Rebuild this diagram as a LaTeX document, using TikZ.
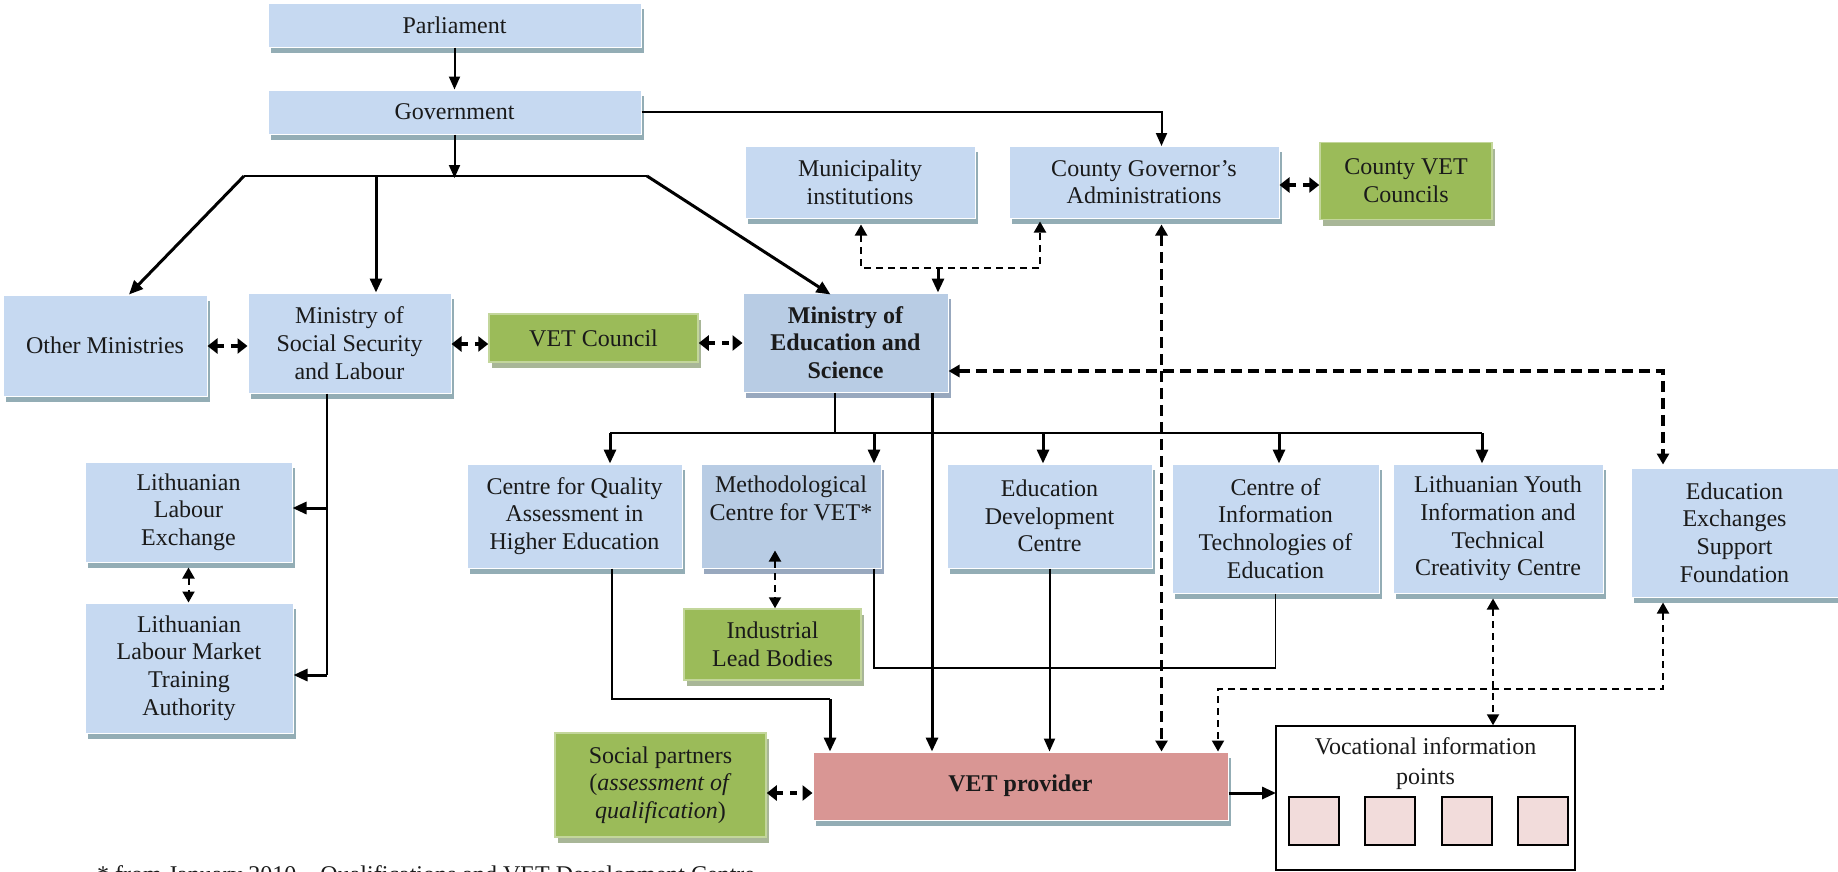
\documentclass[tikz,border=0pt]{standalone}
\usepackage{fontspec}
\setmainfont{Liberation Serif}
\usetikzlibrary{arrows.meta,shadows}
\definecolor{lblue}{HTML}{C6D9F1}
\definecolor{dblue}{HTML}{B8CCE4}
\definecolor{vgreen}{HTML}{9BBB59}
\definecolor{vgreenb}{HTML}{C3D69B}
\definecolor{vpink}{HTML}{D99694}
\definecolor{lpink}{HTML}{F2DCDB}
\definecolor{shblue}{HTML}{93ADB5}
\definecolor{shdblue}{HTML}{98A8BE}
\definecolor{shgreen}{HTML}{A8B697}
\definecolor{txt}{HTML}{1A1A1A}
\newcommand\myfs{\fontsize{24}{27.7}\selectfont}
\begin{document}
\begin{tikzpicture}[x=1pt,y=-1pt,
  wh/.style 2 args={minimum width=#1pt, minimum height=#2pt},
  box/.style={draw=white, line width=1pt, fill=lblue, align=center, inner sep=0pt,
    font=\myfs, text=txt,
    drop shadow={shadow xshift=3pt, shadow yshift=-6pt, fill=shblue, opacity=1}},
  dbox/.style={box, fill=dblue, drop shadow={shadow xshift=3pt, shadow yshift=-6pt, fill=shdblue, opacity=1}},
  gbox/.style={box, fill=vgreen, draw=vgreenb, line width=1.5pt,
    drop shadow={shadow xshift=3pt, shadow yshift=-6pt, fill=shgreen, opacity=1}},
  pbox/.style={box, fill=vpink, draw=white},
  ln/.style={line width=1.5pt, draw=black},
  arr/.style={line width=2pt, -{Triangle[length=13pt,width=11pt]}},
  tarr/.style={line width=3pt, -{Triangle[length=14pt,width=12pt]}},
  both/.style={{Triangle[length=11pt,width=12pt]}-{Triangle[length=11pt,width=12pt]}},
  dsh/.style={line width=2pt, dash pattern=on 7pt off 5pt},
  tdsh/.style={line width=3.5pt, dash pattern=on 11pt off 6pt},
  sdbl/.style={line width=4pt, dash pattern=on 7pt off 7pt,
    {Triangle[length=10pt,width=15pt]}-{Triangle[length=10pt,width=15pt]}}
]
\useasboundingbox (0,0) rectangle (1838,871);

% ---------- nodes ----------
\node[box, wh={373}{44}] (par) at (454.5,25) {Parliament};
\node[box, wh={373}{44}] (gov) at (454.5,112) {Government};
\node[box, wh={230}{72}] (mun) at (860,182) {Municipality\\institutions};
\node[box, wh={270}{72}] (cga) at (1144,182) {County Governor’s\\Administrations};
\node[gbox, wh={172}{77}] (cvc) at (1406,181) {County VET\\Councils};
\node[box, wh={204}{101}] (oth) at (105,345.5) {Other Ministries};
\node[box, wh={203}{100}] (mss) at (349.5,343) {Ministry of\\Social Security\\and Labour};
\node[gbox, wh={209}{48}] (vcl) at (593.5,338) {VET Council};
\node[dbox, wh={205}{99}, font=\myfs\bfseries] (med) at (845.5,342.5) {Ministry of\\Education and\\Science};
\node[box, wh={207}{100}] (lle) at (188.5,512) {Lithuanian\\Labour\\Exchange};
\node[box, wh={208}{130}] (llm) at (189,668) {Lithuanian\\Labour Market\\Training\\Authority};
\node[box, wh={215}{104}] (cqa) at (574.5,516) {Centre for Quality\\Assessment in\\Higher Education};
\node[dbox, wh={180}{104}] (met) at (791,516) {Methodological\\Centre for VET*\\\strut};
\node[gbox, wh={177}{71}] (ilb) at (772.5,644.5) {Industrial\\Lead Bodies};
\node[box, wh={205}{104}] (edc) at (1049.5,516) {Education\\Development\\Centre};
\node[box, wh={207}{129}] (cit) at (1275.5,528.5) {Centre of\\Information\\Technologies of\\Education};
\node[box, wh={210}{129}] (lyc) at (1498,528.5) {Lithuanian Youth\\Information and\\Technical\\Creativity Centre};
\node[box, wh={207}{129}] (eex) at (1734.5,532.5) {Education\\Exchanges\\Support\\Foundation};
\node[gbox, wh={211}{104}] (soc) at (660.5,785) {Social partners\\(\textit{assessment of}\\\textit{qualification})};
\node[pbox, wh={415}{68}, font=\myfs\bfseries] (vet) at (1020.5,786) {VET provider};
\node[draw=black, line width=1.5pt, fill=white, wh={299}{144}] (vip) at (1425.5,798) {};
\node[font=\fontsize{24}{30}\selectfont, text=txt, align=center] (viptext) at (1425.5,764) {Vocational information\\points};
\foreach \i/\x in {1/1314,2/1390,3/1467,4/1543}
  \node[draw=black, line width=1.5pt, fill=lpink, wh={50}{48}] (p\i) at (\x,821) {};
\node[anchor=base west, font=\myfs, text=txt, inner sep=0pt] (fn) at (97,882)
  {* from January 2010 – Qualifications and VET Development Centre};

% ---------- coordinates ----------
\coordinate (cgin) at (1161.5,146);
\coordinate (tr) at (454.5,178);
\coordinate (trL) at (244,176);
\coordinate (trM) at (376,176);
\coordinate (trR) at (647,176);
\coordinate (mj) at (938,268);
\coordinate (sb1) at (327,508);
\coordinate (sb2) at (327,675);
\coordinate (bus) at (835,433);
\coordinate (busL) at (610,433);
\coordinate (b2) at (874,433);
\coordinate (b3) at (1043,433);
\coordinate (b4) at (1279,433);
\coordinate (busR) at (1482,433);
\coordinate (cq2) at (830,699);
\coordinate (jn) at (1049.5,668);
\coordinate (ej) at (1218,689);
\coordinate (vv) at (1276,793);

% ---------- connectors ----------
\draw[arr] (par) -- (gov);
\draw[arr] (gov.east) -| (cgin);
\draw[arr] (gov) -- (tr);
\draw[ln] (trL) -- (trR);
\draw[tarr] (trL) -- ([xshift=24pt]oth.north);
\draw[tarr] (trM) -- ([xshift=26.5pt]mss.north);
\draw[tarr] (trR) -- ([xshift=-15pt,yshift=-2pt]med.north);

% municipality / county dashed
\draw[dsh, both] ([xshift=1pt,yshift=-6pt]mun.south) |- (mj) -| ([xshift=-104pt,yshift=-3pt]cga.south);
\draw[tarr] (mj) -- ([xshift=92.5pt]med.north);

% horizontal double arrows
\draw[sdbl] ([yshift=-0.5pt]oth.east) -- ([yshift=-0.5pt]oth.east -| mss.west);
\draw[sdbl] ([yshift=-1pt]mss.east) -- ([yshift=-6pt]vcl.west);
\draw[sdbl] ([yshift=-5pt]vcl.east) -- ([yshift=-0.5pt]med.west);
\draw[sdbl] ([yshift=-3pt]cga.east) -- ([yshift=-4pt]cvc.west);
\draw[sdbl] ([yshift=-8pt]soc.east) -- ([yshift=-7pt]vet.west);

% county governor <-> VET provider
\draw[tdsh, both] ([xshift=17.5pt,yshift=-6pt]cga.south) -- ([xshift=141pt]vet.north);
% MinEd <-> Education Exchanges
\draw[tdsh, both] ([yshift=-28.5pt]med.east) -| ([xshift=-71.5pt,yshift=3pt]eex.north);

% social security branch
\draw[ln] ([xshift=-22.5pt]mss.south) -- (sb2);
\draw[tarr] (sb1) -- (sb1 -| lle.east);
\draw[tarr] (sb2) -- (sb2 -| llm.east);
\draw[dsh, both] ([yshift=-5pt]lle.south) -- (lle.south |- llm.north);

% MinEd bus
\draw[ln] ([xshift=-10.5pt]med.south) -- (bus);
\draw[ln] (busL) -- (busR);
\draw[tarr] (busL) -- ([xshift=35.5pt]cqa.north);
\draw[tarr] (b2) -- ([xshift=83pt]met.north);
\draw[tarr] (b3) -- ([xshift=-6.5pt]edc.north);
\draw[tarr] (b4) -- ([xshift=3.5pt]cit.north);
\draw[tarr] (busR) -- ([xshift=-16pt]lyc.north);
\draw[tarr] ([xshift=86.5pt]med.south) -- ([xshift=-88.5pt]vet.north);

% to VET provider
\draw[ln] ([xshift=37.5pt]cqa.south) |- (cq2);
\draw[tarr] (cq2) -- ([xshift=-190.5pt]vet.north);
\draw[ln] ([xshift=83pt]met.south) |- (jn);
\draw[ln] (cit.south) |- (jn);
\draw[arr] (edc.south) -- (edc.south |- vet.north);
\draw[dsh, both] ([xshift=-16pt,yshift=18pt]met.south) -- ([xshift=2.5pt]ilb.north);

% vocational information
\draw[dsh, both] ([xshift=-5pt,yshift=-5pt]lyc.south) -- ([xshift=67.5pt]vip.north);
\draw[dsh, both] ([xshift=-71.5pt,yshift=-5pt]eex.south) |- (ej) -- ([xshift=197.5pt]vet.north);
\draw[tarr] ([yshift=-7pt]vet.east) -- (vv);
\end{tikzpicture}
\end{document}
